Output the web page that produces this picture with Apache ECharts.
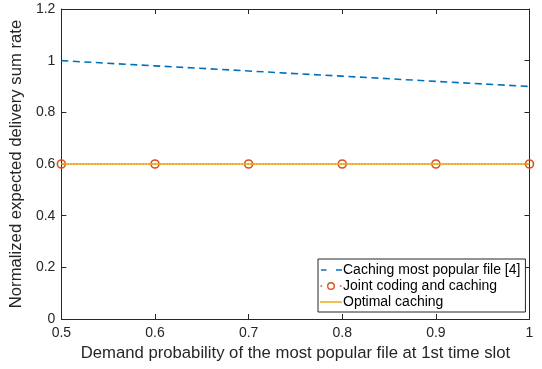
<!DOCTYPE html>
<html><head><meta charset="utf-8">
<script src="https://cdn.jsdelivr.net/npm/echarts@6/dist/echarts.min.js"></script>
<style>html,body{margin:0;padding:0;background:#fff}#c{width:542px;height:369px}</style>
</head><body><div id="c"></div>
<script>
var xValues = [0.5, 0.6, 0.7, 0.8, 0.9, 1.0];
var cachingPopular = [1.0, 0.98, 0.96, 0.94, 0.92, 0.90];
var jointCoding = [0.6, 0.6, 0.6, 0.6, 0.6, 0.6];
var optimalCaching = [0.6, 0.6, 0.6, 0.6, 0.6, 0.6];
var seriesNames = ['Caching most popular file [4]', 'Joint coding and caching', 'Optimal caching'];
var xName = 'Demand probability of the most popular file at 1st time slot';
var yName = 'Normalized expected delivery sum rate';

function pairs(ys){ return xValues.map(function(x,i){ return [x, ys[i]]; }); }
var font = 'Liberation Sans, Arial, Helvetica, sans-serif';
var axisCol = '#262626';
var cBlue = '#0072BD', cOrange = '#D95319', cYellow = '#EDB120';
var chart = echarts.init(document.getElementById('c'), null, {renderer:'canvas'});
var baseAxis = {
  axisLine:{show:true, onZero:false, lineStyle:{color:axisCol, width:1}},
  axisTick:{show:true, inside:true, length:5, lineStyle:{color:axisCol}},
  splitLine:{show:false}
};
var fmt = function(v){ return String(+v.toFixed(2)); };
var iconBlue = 'path://M0,0M22,14M1,6.2h5.5v1.6h-5.5zM16,6.2h6v1.6h-6z';
var iconOrange = 'path://M0,0M22,14M0.5,6.2h1.6v1.6h-1.6zM19.9,6.2h1.6v1.6h-1.6z' +
  'M15,7A4,4 0 1,0 7,7A4,4 0 1,0 15,7Z M13.6,7A2.6,2.6 0 1,1 8.4,7A2.6,2.6 0 1,1 13.6,7Z';
var iconYellow = 'path://M0,0M22,14M0,6.2h22v1.6h-22z';
chart.setOption({
  animation:false,
  backgroundColor:'#fff',
  grid:{left:61, right:12.5, top:9, bottom:50, containLabel:false},
  xAxis:[
    Object.assign({}, baseAxis, {type:'value', min:0.5, max:1, interval:0.1, position:'bottom',
      name:xName, nameLocation:'middle', nameGap:26,
      nameTextStyle:{fontFamily:font, fontSize:16.7, color:'#262626'},
      axisLabel:{fontFamily:font, fontSize:14, color:'#262626', margin:7, formatter:fmt}}),
    Object.assign({}, baseAxis, {type:'value', min:0.5, max:1, interval:0.1, position:'top',
      axisLabel:{show:false}})
  ],
  yAxis:[
    Object.assign({}, baseAxis, {type:'value', min:0, max:1.2, interval:0.2, position:'left',
      name:yName, nameLocation:'middle', nameGap:28,
      nameTextStyle:{fontFamily:font, fontSize:16.7, color:'#262626'},
      axisLabel:{fontFamily:font, fontSize:14, color:'#262626', margin:6, formatter:fmt}}),
    Object.assign({}, baseAxis, {type:'value', min:0, max:1.2, interval:0.2, position:'right',
      axisLabel:{show:false}})
  ],
  legend:{
    orient:'vertical', left:318, top:259,
    backgroundColor:'#fff', borderColor:axisCol, borderWidth:1, borderRadius:0,
    padding:[3,5,2,2], itemGap:0, itemWidth:22, itemHeight:14,
    textStyle:{fontFamily:font, fontSize:14, lineHeight:16, color:'#000', padding:[0,0,0,-4]},
    data:[
      {name:seriesNames[0], icon:iconBlue, itemStyle:{color:cBlue, borderWidth:0}},
      {name:seriesNames[1], icon:iconOrange, itemStyle:{color:cOrange, borderWidth:0}},
      {name:seriesNames[2], icon:iconYellow, itemStyle:{color:cYellow, borderWidth:0}}
    ]
  },
  series:[
    {name:seriesNames[0], type:'line', data:pairs(cachingPopular), showSymbol:false, symbol:'none',
      lineStyle:{color:cBlue, width:1.6, type:[7,4.5]}, itemStyle:{color:cBlue}, z:3},
    {name:seriesNames[1], type:'line', data:pairs(jointCoding), symbol:'circle', symbolSize:8,
      lineStyle:{color:cOrange, width:1.5, type:'dotted'},
      itemStyle:{color:'rgba(0,0,0,0)', borderColor:cOrange, borderWidth:1.6}, z:3},
    {name:seriesNames[2], type:'line', data:pairs(optimalCaching), symbol:'none',
      lineStyle:{color:cYellow, width:1.6}, itemStyle:{color:cYellow}, z:4}
  ]
});
</script></body></html>
